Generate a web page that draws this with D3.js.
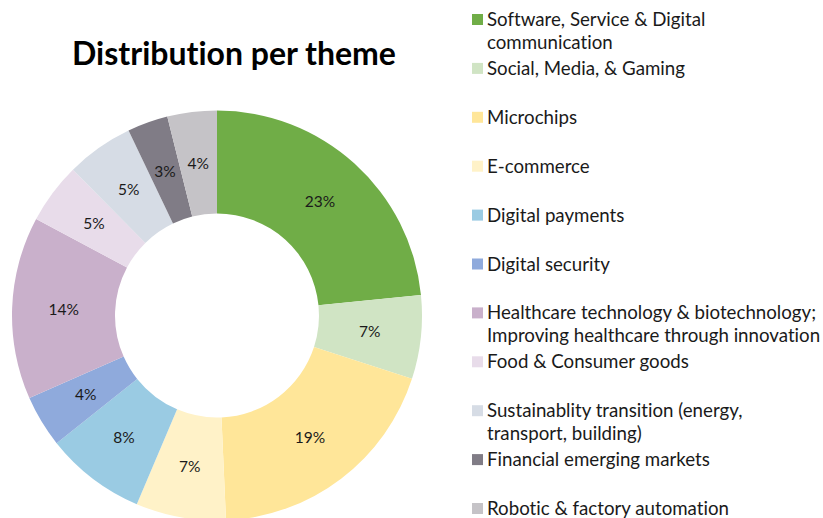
<!DOCTYPE html>
<html>
<head>
<meta charset="utf-8">
<script src="https://cdn.jsdelivr.net/npm/d3@7/dist/d3.min.js"></script>
<style>
  html, body { margin: 0; padding: 0; background: #fff; }
  svg { display: block; font-family: Lato, "Open Sans", sans-serif; font-variant-ligatures: none; font-feature-settings: "liga" 0; }
</style>
</head>
<body>
<svg id="chart" width="823" height="518"></svg>
<script>
const categories = [
  ["Software, Service & Digital", "communication"],
  ["Social, Media, & Gaming"],
  ["Microchips"],
  ["E-commerce"],
  ["Digital payments"],
  ["Digital security"],
  ["Healthcare technology & biotechnology;", "Improving healthcare through innovation"],
  ["Food & Consumer goods"],
  ["Sustainablity transition (energy,", "transport, building)"],
  ["Financial emerging markets"],
  ["Robotic & factory automation"]
];
const values = [23.4, 6.6, 19.3, 7.1, 7.9, 4.1, 14.4, 4.8, 5.3, 3.2, 3.9];
const labels = ["23%", "7%", "19%", "7%", "8%", "4%", "14%", "5%", "5%", "3%", "4%"];
const colors = ["#70AD47", "#D0E4C4", "#FFE699", "#FFF2C8", "#9ACBE3", "#8FAADC",
                "#C9B0CB", "#E8DCEA", "#D6DCE5", "#807C86", "#C5C3C7"];
const title = "Distribution per theme";

const svg = d3.select("#chart");
const cx = 217, cy = 315.5, R = 205, r = 102;

svg.append("text")
  .attr("x", 234).attr("y", 65)
  .attr("text-anchor", "middle")
  .attr("font-weight", "bold")
  .attr("font-size", 32)
  .attr("fill", "#000")
  .text(title);

const pie = d3.pie().sort(null).value(d => d);
const arcs = pie(values);
const arc = d3.arc().innerRadius(r).outerRadius(R);

const g = svg.append("g").attr("transform", `translate(${cx},${cy})`);
g.selectAll("path").data(arcs).join("path")
  .attr("d", arc)
  .attr("fill", (d, i) => colors[i]);

g.selectAll("text").data(arcs).join("text")
  .attr("transform", d => `translate(${arc.centroid(d)})`)
  .attr("text-anchor", "middle")
  .attr("dy", "0.35em")
  .attr("font-size", 15.5)
  .attr("fill", "#1a1a1a")
  .text((d, i) => labels[i]);

const legendY = d3.scaleLinear().domain([0, categories.length - 1]).range([19.5, 508.5]);
const lg = svg.append("g");
const items = lg.selectAll("g").data(categories).join("g")
  .attr("transform", (d, i) => `translate(472,${legendY(i)})`);
items.append("rect")
  .attr("x", 0).attr("y", -5.5).attr("width", 11).attr("height", 11)
  .attr("fill", (d, i) => colors[i]);
items.each(function(lines) {
  const t = d3.select(this).append("text")
    .attr("x", 15).attr("y", 0)
    .attr("font-size", 18.7)
    .attr("fill", "#1a1a1a");
  lines.forEach((ln, k) => {
    t.append("tspan").attr("x", 15).attr("dy", k === 0 ? "0.35em" : 23).text(ln);
  });
});
</script>
</body>
</html>
